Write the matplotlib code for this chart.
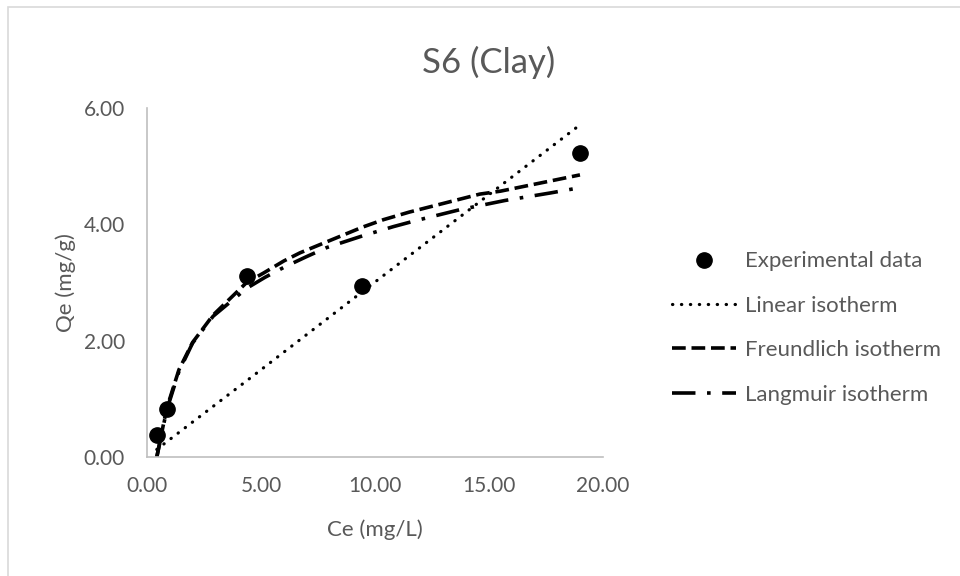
import matplotlib
matplotlib.use("Agg")
import matplotlib.pyplot as plt
from matplotlib.patches import Rectangle

# experimental points
ce_exp = [0.43, 0.86, 4.37, 9.44, 18.99]
qe_exp = [0.38, 0.82, 3.11, 2.94, 5.22]

# model curves, values
ce_lin = [0.43, 0.86, 4.37, 9.44, 18.99]
qe_lin = [0.13, 0.26, 1.31, 2.84, 5.71]

ce_fr = [0.43, 0.86, 1.4, 2.0, 2.9, 4.37, 5.1, 6.0, 6.71, 7.7, 9.44, 10.37, 11.5, 13.5, 14.6, 15.5, 17.5, 18.99]
qe_fr = [0.0, 0.83, 1.50, 1.97, 2.44, 3.00, 3.16, 3.37, 3.51, 3.67, 3.95, 4.08, 4.21, 4.41, 4.52, 4.57, 4.73, 4.85]

ce_la = [0.43, 0.86, 1.4, 2.0, 2.9, 4.37, 5.18, 6.05, 6.97, 7.88, 9.44, 10.8, 11.75, 13.7, 15.7, 17.7, 18.99]
qe_la = [0.0, 0.80, 1.47, 1.96, 2.42, 2.90, 3.09, 3.27, 3.44, 3.60, 3.80, 3.96, 4.06, 4.25, 4.41, 4.54, 4.63]

x_ticks = [0, 5, 10, 15, 20]
y_ticks = [0, 2, 4, 6]

grey = "#595959"
plt.rcParams['font.family'] = ['Lato', 'DejaVu Sans']

fig = plt.figure(figsize=(9.6, 5.76), dpi=100)
ax = fig.add_axes([147 / 960, 1 - 457 / 576, 456 / 960, 349 / 576])

ax.plot(ce_lin, qe_lin, color="black", lw=2.3, linestyle=(0, (0.1, 2.7)),
        dash_capstyle="round", label="Linear isotherm", zorder=2)
ax.plot(ce_fr, qe_fr, color="black", lw=2.6, linestyle=(0, (3.8, 1.6)),
        label="Freundlich isotherm", zorder=2)
ax.plot(ce_la, qe_la, color="black", lw=2.6, linestyle=(0, (6.5, 3.2, 1, 3.2)),
        label="Langmuir isotherm", zorder=2)
ax.plot(ce_exp, qe_exp, "o", color="black", ms=11, label="Experimental data", zorder=3)

ax.set_xlim(0, 20)
ax.set_ylim(0, 6)
ax.set_xticks(x_ticks)
ax.set_yticks(y_ticks)
ax.set_xticklabels(["%.2f" % v for v in x_ticks])
ax.set_yticklabels(["%.2f" % v for v in y_ticks])
ax.tick_params(length=0, labelsize=15, colors=grey)
ax.tick_params(axis="x", pad=14)
ax.tick_params(axis="y", pad=16)

for s in ["top", "right"]:
    ax.spines[s].set_visible(False)
for s in ["left", "bottom"]:
    ax.spines[s].set_color("#BFBFBF")
    ax.spines[s].set_linewidth(1.2)

fig.text(375 / 960, 1 - 530 / 576, "Ce (mg/L)", ha="center", va="center",
         fontsize=16, color=grey)
fig.text(66 / 960, 1 - 283 / 576, "Qe (mg/g)", ha="center", va="center",
         fontsize=16, color=grey, rotation=90)
fig.text(489 / 960, 1 - 62 / 576, "S6 (Clay)", ha="center", va="center",
         fontsize=25, color=grey)

handles, labels = ax.get_legend_handles_labels()
order = [3, 0, 1, 2]
leg = ax.legend([handles[i] for i in order], [labels[i] for i in order],
                loc="center left", bbox_to_anchor=(672 / 960, 1 - 328 / 576),
                bbox_transform=fig.transFigure, frameon=False, fontsize=16,
                handlelength=2.9, handletextpad=0.4, labelspacing=1.1,
                borderpad=0, borderaxespad=0)
for t in leg.get_texts():
    t.set_color(grey)

fig.patches.append(Rectangle((8 / 960, -0.01), 1.0, 1 - 7 / 576 + 0.01,
                             transform=fig.transFigure, fill=False,
                             edgecolor="#D9D9D9", lw=1.2))

fig.savefig("out.png", dpi=100)
